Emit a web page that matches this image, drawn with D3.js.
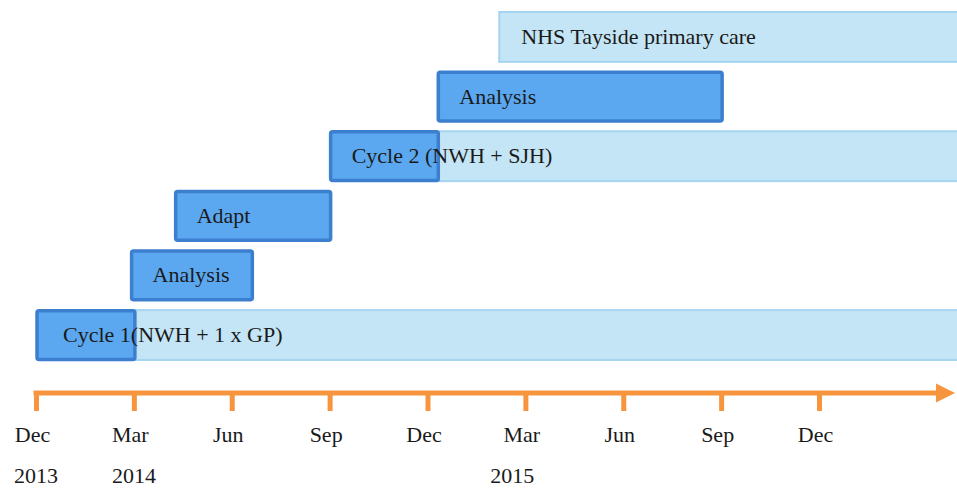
<!DOCTYPE html>
<html>
<head>
<meta charset="utf-8">
<script src="https://cdn.jsdelivr.net/npm/d3@7"></script>
<style>
  body { margin: 0; background: #fff; }
  text { font-family: "Liberation Serif", serif; fill: #1a1a1a; }
</style>
</head>
<body>
<script>

// months counted from Dec 2013 (0) onwards
var taskLabels = ["Cycle 1(NWH + 1 x GP)", "Analysis", "Adapt", "Cycle 2 (NWH + SJH)", "Analysis", "NHS Tayside primary care"];
var taskStart = [0, 2.9, 4.25, 9, 12.3, null];
var taskEnd = [3, 6.6, 9, 12.3, 21, null];
// light bars that carry on to the end of the timeline
var ongoingStart = [3, null, null, 12.3, null, 14.2];
var timelineEnd = 29;

var tickMonths = [0, 3, 6, 9, 12, 15, 18, 21, 24];
var tickLabels = ["Dec", "Mar", "Jun", "Sep", "Dec", "Mar", "Jun", "Sep", "Dec"];
var yearLabels = ["2013", "2014", "2015"];
var yearMonths = [0, 3, 14.6];

var width = 957,
    height = 489;

var svg = d3.select("body")
  .append("svg")
  .attr("width", width)
  .attr("height", height);

// x scale: months -> pixels
var x = d3.scaleLinear()
  .domain([0, 24])
  .range([36, 819]);

// rows, first task at the bottom
var rows = d3.range(taskLabels.length);
var y = d3.scaleBand()
  .domain(rows.slice().reverse())
  .range([11, 361])
  .paddingInner(0.13)
  .paddingOuter(0);

var orange = "#f7953f";

// light "ongoing" bars first, dark phase bars go on top
svg.append("g")
  .selectAll("rect")
  .data(rows.filter(function(i) { return ongoingStart[i] != null; }))
  .enter().append("rect")
  .attr("x", function(i) { return x(ongoingStart[i]); })
  .attr("y", function(i) { return y(i) + 1; })
  .attr("width", function(i) { return x(timelineEnd) - x(ongoingStart[i]); })
  .attr("height", y.bandwidth() - 2)
  .attr("fill", "#c4e5f5")
  .attr("stroke", "#a5d4f0")
  .attr("stroke-width", 2);

svg.append("g")
  .selectAll("rect")
  .data(rows.filter(function(i) { return taskStart[i] != null; }))
  .enter().append("rect")
  .attr("x", function(i) { return x(taskStart[i]) + 1; })
  .attr("y", function(i) { return y(i) + 1.5; })
  .attr("width", function(i) { return x(taskEnd[i]) - x(taskStart[i]); })
  .attr("height", y.bandwidth() - 3)
  .attr("rx", 2)
  .attr("fill", "#5ba8f0")
  .attr("stroke", "#3d7fcf")
  .attr("stroke-width", 3.5);

// labels
svg.append("g")
  .selectAll("text")
  .data(rows)
  .enter().append("text")
  .attr("x", function(i) {
    var s = taskStart[i] != null ? taskStart[i] : ongoingStart[i];
    return x(s) + (i == 0 ? 27 : 22);
  })
  .attr("y", function(i) { return y(i) + y.bandwidth() / 2 + 7; })
  .style("font-size", "22px")
  .text(function(i) { return taskLabels[i]; });

// time axis
var axisY = 393;

var xAxis = d3.axisBottom(x)
  .tickValues(tickMonths)
  .tickSize(18)
  .tickFormat(function(d, i) { return tickLabels[i]; });

var gX = svg.append("g")
  .attr("transform", "translate(0," + axisY + ")")
  .call(xAxis);

gX.select(".domain").remove();
gX.selectAll(".tick line")
  .attr("stroke", orange)
  .attr("stroke-width", 5);
gX.selectAll(".tick text")
  .attr("y", 49)
  .attr("dy", 0)
  .attr("dx", -4)
  .attr("fill", "#1a1a1a")
  .style("font-size", "22px")
  .style("font-family", "Liberation Serif, serif");

svg.append("line")
  .attr("x1", x(0) - 2.5)
  .attr("x2", 940)
  .attr("y1", axisY)
  .attr("y2", axisY)
  .attr("stroke", orange)
  .attr("stroke-width", 5);

svg.append("path")
  .attr("d", "M936," + (axisY - 9.5) + "L955," + axisY + "L936," + (axisY + 9.5) + "Z")
  .attr("fill", orange);

// years under the month labels
svg.append("g")
  .selectAll("text")
  .data(yearLabels)
  .enter().append("text")
  .attr("x", function(d, i) { return x(yearMonths[i]); })
  .attr("y", 483)
  .attr("text-anchor", "middle")
  .style("font-size", "22px")
  .text(function(d) { return d; });

</script>
</body>
</html>
